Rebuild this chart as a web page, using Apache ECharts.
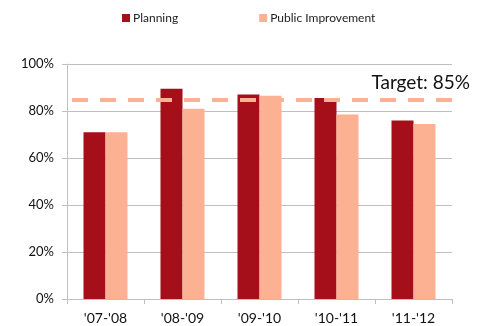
<!DOCTYPE html>
<html>
<head>
<meta charset="utf-8">
<script src="https://cdn.jsdelivr.net/npm/echarts@6/dist/echarts.min.js"></script>
<style>
  html, body { margin: 0; padding: 0; background: #fff; }
  #chart { width: 477px; height: 326px; }
</style>
</head>
<body>
<div id="chart"></div>
<script>
// Fiscal-year categories and completion rates (percent)
const categories = ["'07-'08", "'08-'09", "'09-'10", "'10-'11", "'11-'12"];
const planning = [71, 89.5, 87, 85.5, 76];
const publicImprovement = [71, 81, 86.5, 78.5, 74.5];
const target = 85;
const yTicks = [0, 20, 40, 60, 80, 100];

const FONT = 'Lato, "DejaVu Sans", sans-serif';
const GRID_GRAY = '#BFBFBF';

const chart = echarts.init(document.getElementById('chart'), null, { renderer: 'canvas' });
chart.setOption({
  animation: false,
  textStyle: { fontFamily: FONT },
  legend: {
    top: 7,
    left: 117,
    itemWidth: 8,
    itemHeight: 8,
    itemGap: 81,
    icon: 'rect',
    textStyle: { fontFamily: FONT, fontSize: 12, color: '#222', padding: [0, 0, 0, -2] },
    data: ['Planning', 'Public Improvement']
  },
  grid: { left: 67, right: 25, top: 64, bottom: 27, containLabel: false },
  xAxis: {
    type: 'category',
    data: categories,
    axisLine: { lineStyle: { color: GRID_GRAY, width: 1 } },
    axisTick: { show: true, length: 5, lineStyle: { color: GRID_GRAY } },
    axisLabel: { fontFamily: FONT, fontSize: 14, color: '#111', margin: 12 }
  },
  yAxis: {
    type: 'value',
    min: yTicks[0],
    max: yTicks[yTicks.length - 1],
    interval: yTicks[1] - yTicks[0],
    axisLine: { show: true, lineStyle: { color: GRID_GRAY, width: 1 } },
    axisTick: { show: true, length: 5, lineStyle: { color: GRID_GRAY } },
    axisLabel: { fontFamily: FONT, fontSize: 13, color: '#111', margin: 13, formatter: '{value}%' },
    splitLine: { show: true, lineStyle: { color: GRID_GRAY, width: 1 } }
  },
  series: [
    {
      name: 'Planning',
      type: 'bar',
      data: planning,
      barWidth: 22,
      barGap: '0%',
      itemStyle: { color: '#A50F1A' },
      z: 2
    },
    {
      name: 'Public Improvement',
      type: 'bar',
      data: publicImprovement,
      barWidth: 22,
      itemStyle: { color: '#FBB192' },
      z: 2,
      markLine: {
        silent: true,
        symbol: ['none', 'none'],
        z: 5,
        lineStyle: { color: '#FBB192', type: [16, 12], width: 4, dashOffset: 23 },
        label: {
          show: true,
          position: 'insideEndTop',
          formatter: 'Target: ' + target + '%',
          fontFamily: FONT,
          fontSize: 19,
          color: '#111',
          offset: [23, -2]
        },
        data: [{ yAxis: target }]
      }
    }
  ]
});
</script>
</body>
</html>
